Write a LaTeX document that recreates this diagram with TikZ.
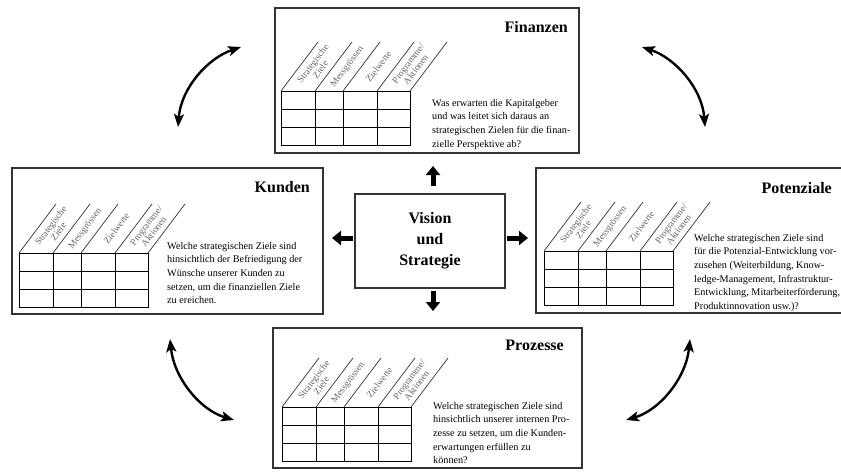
\documentclass[tikz,border=0pt]{standalone}
\usepackage{fontspec}
\setmainfont{Liberation Serif}
\usetikzlibrary{arrows.meta}

% Balanced-scorecard table: 4 columns, 3 rows, slanted column headers
\newcommand\scorecard[3]{%
  \begin{scope}[shift={(#1,#2)}]
    \draw[grid] (0,0) rectangle (129,54);
    \draw[grid] (0,18) -- (129,18) (0,36) -- (129,36);
    \foreach \c in {34,62,96} \draw[grid] (\c,0) -- (\c,54);
    \foreach \c in {0,34,62,96,129} \draw[slant] (\c,0) -- ++(37,-49);
    \node[collabel] (#3-c1) at (35.5,-24.5) {Strategische\\Ziele};
    \node[collabel] (#3-c2) at (66.5,-24.5) {Messgrössen};
    \node[collabel] (#3-c3) at (97.5,-24.5) {Zielwerte};
    \node[collabel] (#3-c4) at (131,-24.5) {Programme/\\Aktionen};
  \end{scope}}

\begin{document}
\begin{tikzpicture}[x=1pt,y=-1pt,
  panel/.style={draw=black!80, line width=1.2pt, inner sep=0pt},
  title/.style={font=\fontsize{16}{18}\selectfont\bfseries, anchor=base east, inner sep=0pt},
  body/.style={font=\fontsize{10.2}{13.6}\selectfont, anchor=north west, inner sep=0pt, align=left},
  collabel/.style={font=\fontsize{9.4}{9.6}\selectfont, text=black!60, rotate=53, align=center, inner sep=0pt},
  grid/.style={line width=0.9pt},
  slant/.style={line width=0.7pt, black!80},
  blockarrow/.style={line width=5pt, -{Triangle[width=14pt,length=9pt]}},
  swing/.style={line width=2.4pt, {Stealth[length=13pt,width=10pt,inset=3pt]}-{Stealth[length=13pt,width=10pt,inset=3pt]}}
]
\useasboundingbox (0,0) rectangle (841,472);
\clip (0,0) rectangle (841,472);

% ---------- four perspectives ----------
\node[panel, minimum width=304pt, minimum height=145pt] (fin) at (427,80.5) {};
\node[title] (fin-t) at (568,32) {Finanzen};
\scorecard{281}{91}{fin}
\node[body] (fin-q) at (432,99) {Was erwarten die Kapitalgeber\\und was leitet sich daraus an\\strategischen Zielen für die finan-\\zielle Perspektive ab?};

\node[panel, minimum width=311pt, minimum height=146pt] (kun) at (167.5,241) {};
\node[title] (kun-t) at (310,192) {Kunden};
\scorecard{19}{253}{kun}
\node[body] (kun-q) at (167,242) {Welche strategischen Ziele sind\\hinsichtlich der Befriedigung der\\Wünsche unserer Kunden zu\\setzen, um die finanziellen Ziele\\zu ereichen.};

\node[panel, minimum width=324pt, minimum height=145pt] (pot) at (698,240.5) {};
\node[title] (pot-t) at (832,193) {Potenziale};
\scorecard{544}{251}{pot}
\node[body] (pot-q) at (694,234) {Welche strategischen Ziele sind\\für die Potenzial-Entwicklung vor-\\zusehen (Weiterbildung, Know-\\ledge-Management, Infrastruktur-\\Entwicklung, Mitarbeiterförderung,\\Produktinnovation usw.)?};

\node[panel, minimum width=309pt, minimum height=140pt] (pro) at (427.5,398) {};
\node[title] (pro-t) at (564,350) {Prozesse};
\scorecard{282}{407}{pro}
\node[body] (pro-q) at (433,402) {Welche strategischen Ziele sind\\hinsichtlich unserer internen Pro-\\zesse zu setzen, um die Kunden-\\erwartungen erfüllen zu\\können?};

% ---------- centre ----------
\node[panel, minimum width=150pt, minimum height=94pt,
      font=\fontsize{16}{21}\selectfont\bfseries, align=center] (vis) at (430,241)
      {Vision\\und\\Strategie};

\coordinate (upA) at (433,186);  \coordinate (upB) at (433,166);
\coordinate (dnA) at (433,291);  \coordinate (dnB) at (433,311);
\coordinate (lfA) at (353,238);  \coordinate (lfB) at (332,238);
\coordinate (rtA) at (507,238);  \coordinate (rtB) at (528,238);
\draw[blockarrow] (upA) -- (upB);
\draw[blockarrow] (dnA) -- (dnB);
\draw[blockarrow] (lfA) -- (lfB);
\draw[blockarrow] (rtA) -- (rtB);

% ---------- cycle between the perspectives ----------
\coordinate (tlA) at (178,127);  \coordinate (tlB) at (241,47);
\coordinate (trA) at (705,127);  \coordinate (trB) at (642,47);
\coordinate (blA) at (170,339);  \coordinate (blB) at (234,420);
\coordinate (brA) at (690,339);  \coordinate (brB) at (626,420);
\draw[swing] (tlA) .. controls (181,88) and (208,58) .. (tlB);
\draw[swing] (trA) .. controls (702,88) and (675,58) .. (trB);
\draw[swing] (blA) .. controls (174,378) and (200,410) .. (blB);
\draw[swing] (brA) .. controls (686,378) and (660,410) .. (brB);
\end{tikzpicture}
\end{document}
